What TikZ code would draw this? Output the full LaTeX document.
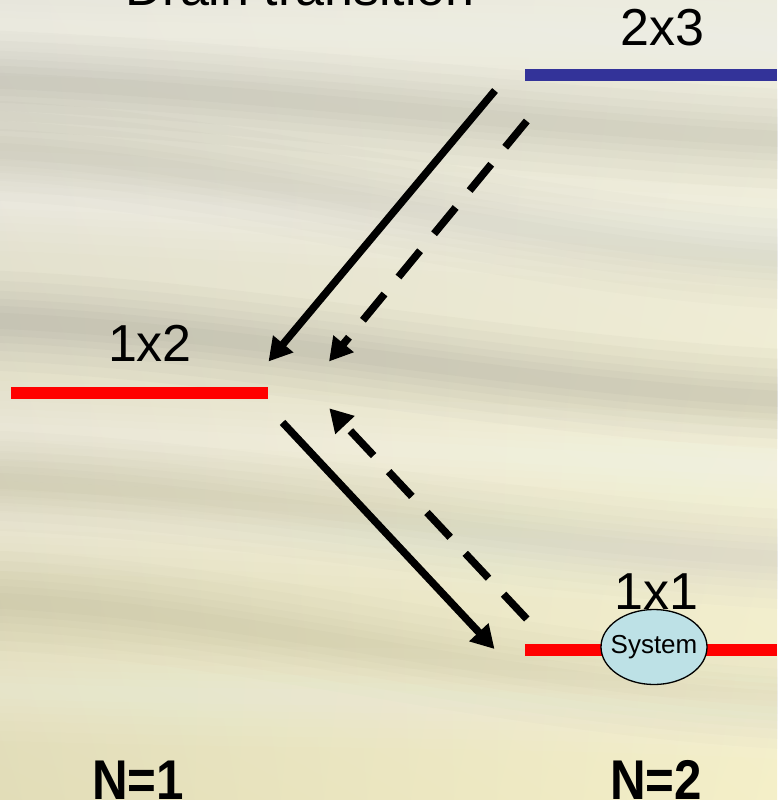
\documentclass[tikz,border=0pt]{standalone}
\usepackage{fontspec}
\setmainfont{Liberation Sans}
\usetikzlibrary{arrows.meta,shapes.geometric,shadings}
\definecolor{levelblue}{HTML}{333399}
\definecolor{levelred}{HTML}{FF0000}
\definecolor{sysfill}{HTML}{BDE1E6}
\definecolor{bgul}{RGB}{228,227,217}
\definecolor{bgur}{RGB}{236,235,222}
\definecolor{bgll}{RGB}{226,221,184}
\definecolor{bglr}{RGB}{244,239,200}
\begin{document}
\begin{tikzpicture}[x=1pt,y=-1pt,
  level/.style={line width=12pt},
  trans/.style={line width=7.5pt, -{Triangle[length=23pt,width=25pt]}},
  dashtrans/.style={trans, dash pattern=on 34pt off 22pt},
  lbl/.style={anchor=base, inner sep=0pt, font=\fontsize{52}{60}\selectfont},
  nlbl/.style={anchor=base, inner sep=0pt, font=\fontsize{56}{60}\selectfont\bfseries},
  streak/.style={line cap=butt}
]
\useasboundingbox (0,0) rectangle (777,800);
% background
\shade[upper left=bgul, upper right=bgur, lower left=bgll, lower right=bglr]
  (0,0) rectangle (777,800);
% soft streaks
\foreach \ya/\yb/\c/\o in {25/45/white/0.05, 80/140/black/0.015, 200/240/white/0.06, 150/260/black/0.012,
   320/400/black/0.018, 430/470/white/0.06, 520/560/white/0.05, 480/560/black/0.01, 600/700/black/0.012, 690/710/white/0.04} {
  \foreach \w in {100,80,60,44,30,16} {
    \draw[streak, draw=\c, opacity=\o, line width=\w pt] (-20,\ya) .. controls (250,\ya+10) and (500,\yb-15) .. (800,\yb);
  }
}
% title
\node[lbl] (title) at (300,6) {Drain transition};
% levels
\coordinate (b1) at (525,75);  \coordinate (b2) at (777,75);
\coordinate (r1) at (11,393);  \coordinate (r2) at (268,393);
\coordinate (s1) at (525,649.5); \coordinate (s2) at (777,649.5);
\draw[level, levelblue] (b1) -- (b2);
\draw[level, levelred] (r1) -- (r2);
\draw[level, levelred] (s1) -- (s2);
\node[lbl] (l23) at (662,46) {2x3};
\node[lbl] (l12) at (150,361) {1x2};
\node[lbl] (l11) at (656,609) {1x1};
% transitions
\coordinate (a1s) at (495,90.5);  \coordinate (a1e) at (268.5,361.5);
\coordinate (d1s) at (526.8,121); \coordinate (d1e) at (329,361.5);
\coordinate (a2s) at (282.5,422.4); \coordinate (a2e) at (494.5,649);
\coordinate (d2s) at (526.8,619); \coordinate (d2e) at (329.3,408.3);
\draw[trans] (a1s) -- (a1e);
\draw[dashtrans] (d1s) -- (d1e);
\draw[trans] (a2s) -- (a2e);
\draw[dashtrans] (d2s) -- (d2e);
% system
\node[ellipse, draw=black, line width=1.3pt, fill=sysfill, minimum width=106pt, minimum height=75pt, inner sep=0pt] (sys) at (654,647) {};
\node[inner sep=0pt, font=\fontsize{26}{30}\selectfont] (systxt) at (sys.center) {System};
% N labels
\node[nlbl] (n1) at (138,799) {\scalebox{0.88}[1]{N=1}};
\node[nlbl] (n2) at (656,799) {\scalebox{0.88}[1]{N=2}};
\end{tikzpicture}
\end{document}
